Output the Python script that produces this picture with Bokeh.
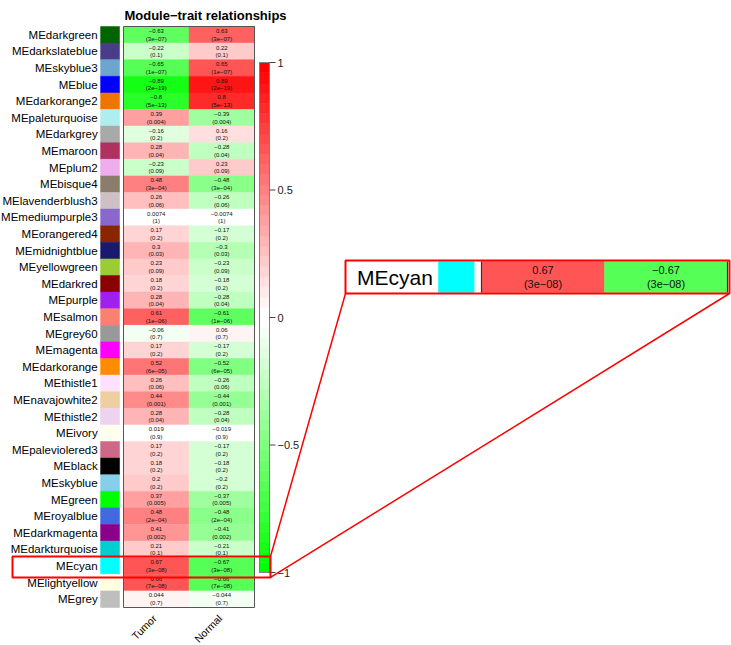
import math
from bokeh.plotting import figure
from bokeh.models import Range1d, ColumnDataSource
from bokeh.core.properties import value
from bokeh.transform import linear_cmap
from bokeh.embed import file_html
from bokeh.resources import INLINE

# ---------------- data ----------------
title_text = "Module−trait relationships"
traits = ["Tumor", "Normal"]
modules = [
    "MEdarkgreen", "MEdarkslateblue", "MEskyblue3", "MEblue", "MEdarkorange2",
    "MEpaleturquoise", "MEdarkgrey", "MEmaroon", "MEplum2", "MEbisque4",
    "MElavenderblush3", "MEmediumpurple3", "MEorangered4", "MEmidnightblue",
    "MEyellowgreen", "MEdarkred", "MEpurple", "MEsalmon", "MEgrey60", "MEmagenta",
    "MEdarkorange", "MEthistle1", "MEnavajowhite2", "MEthistle2", "MEivory",
    "MEpaleviolered3", "MEblack", "MEskyblue", "MEgreen", "MEroyalblue",
    "MEdarkmagenta", "MEdarkturquoise", "MEcyan", "MElightyellow", "MEgrey",
]
module_colors = [
    "#006400", "#483D8B", "#6CA6CD", "#0000FF", "#EE7600",
    "#AFEEEE", "#A9A9A9", "#B03060", "#EEAEEE", "#8B7D6B",
    "#CDC1C5", "#8968CD", "#8B2500", "#191970",
    "#9ACD32", "#8B0000", "#A020F0", "#FA8072", "#999999", "#FF00FF",
    "#FF8C00", "#FFE1FF", "#EECFA1", "#EED2EE", "#FFFFF0",
    "#CD6889", "#000000", "#87CEEB", "#00FF00", "#4169E1",
    "#8B008B", "#00CED1", "#00FFFF", "#FFFFE0", "#BEBEBE",
]
tumor_r = [
    -0.63, -0.22, -0.65, -0.89, -0.8,
    0.39, -0.16, 0.28, -0.23, 0.48,
    0.26, 0.0074, 0.17, 0.3,
    0.23, 0.18, 0.28, 0.61, -0.06, 0.17,
    0.52, 0.26, 0.44, 0.28, 0.019,
    0.17, 0.18, 0.2, 0.37, 0.48,
    0.41, 0.21, 0.67, 0.66, 0.044,
]
normal_r = [
    0.63, 0.22, 0.65, 0.89, 0.8,
    -0.39, 0.16, -0.28, 0.23, -0.48,
    -0.26, -0.0074, -0.17, -0.3,
    -0.23, -0.18, -0.28, -0.61, 0.06, -0.17,
    -0.52, -0.26, -0.44, -0.28, -0.019,
    -0.17, -0.18, -0.2, -0.37, -0.48,
    -0.41, -0.21, -0.67, -0.66, -0.044,
]
p_values = [
    "3e-07", "0.1", "1e-07", "2e-19", "5e-13",
    "0.004", "0.2", "0.04", "0.09", "3e-04",
    "0.06", "1", "0.2", "0.03",
    "0.09", "0.2", "0.04", "1e-06", "0.7", "0.2",
    "6e-05", "0.06", "0.001", "0.04", "0.9",
    "0.2", "0.2", "0.2", "0.005", "2e-04",
    "0.002", "0.1", "3e-08", "7e-08", "0.7",
]
colorbar_ticks = [1, 0.5, 0, -0.5, -1]
highlight_module = "MEcyan"

# ---------------- style / layout ----------------
FONT = value("Liberation Sans")
PAGE_L, PAGE_T = 0, 0
W, H = 731, 645
PAGE_R, PAGE_B = PAGE_L + W, PAGE_T + H

HM_LEFT, HM_RIGHT = 123, 254      # heatmap in page px
HM_TOP, HM_BOTTOM = 26, 607
SW_L, SW_R = -0.35, -0.06         # swatch, in column units
LABEL_X = -0.395                  # label right end, in column units


def green_white_red(n):
    half = n // 2
    cols = []
    for i in range(half):
        t = i / (half - 1)
        cols.append("#%02x%02x%02x" % (round(255 * t), 255, round(255 * t)))
    for i in range(half):
        t = 1 - i / (half - 1)
        cols.append("#%02x%02x%02x" % (255, round(255 * t), round(255 * t)))
    return cols


palette = green_white_red(50)


def x_range_from(px0, v0, px1, v1):
    k = (v1 - v0) / (px1 - px0)
    return Range1d(start=v0 + (PAGE_L - px0) * k, end=v0 + (PAGE_R - px0) * k)


def y_range_from(px0, v0, px1, v1):
    k = (v1 - v0) / (px1 - px0)
    return Range1d(start=v0 + (PAGE_B - px0) * k, end=v0 + (PAGE_T - px0) * k)


def fmt(s):
    return s.replace("-", "−")


n_rows = len(modules)
n_traits = len(traits)
row_px = (HM_BOTTOM - HM_TOP) / n_rows

p = figure(width=W, height=H,
           x_range=x_range_from(HM_LEFT, 0, HM_RIGHT, n_traits),
           y_range=y_range_from(HM_TOP, 0, HM_BOTTOM, n_rows),
           x_axis_location=None, y_axis_location=None,
           output_backend="svg", toolbar_location=None, min_border=0)
p.grid.visible = False
p.outline_line_color = None
p.background_fill_color = "white"
p.border_fill_color = "white"

p.extra_x_ranges = {
    "px": Range1d(PAGE_L, PAGE_R),
    "ix": x_range_from(481, 0, 604, 1),
}
p.extra_y_ranges = {
    "px": Range1d(PAGE_B, PAGE_T),
    "cb": y_range_from(62, 1, 572, -1),
    "iy": y_range_from(261, 0, 292, 1),
}

trait_values = [tumor_r, normal_r]


def build_sources(rows, row_offset):
    rows_d = dict(top=[], bottom=[], mid=[], name=[], color=[])
    cells = dict(left=[], right=[], top=[], bottom=[], xc=[], yc=[], r=[], label=[])
    for k, i in enumerate(rows):
        y0 = k + row_offset
        rows_d["top"].append(y0)
        rows_d["bottom"].append(y0 + 1)
        rows_d["mid"].append(y0 + 0.5)
        rows_d["name"].append(modules[i])
        rows_d["color"].append(module_colors[i])
        for j in range(n_traits):
            r = trait_values[j][i]
            cells["left"].append(j)
            cells["right"].append(j + 1)
            cells["top"].append(y0)
            cells["bottom"].append(y0 + 1)
            cells["xc"].append(j + 0.5)
            cells["yc"].append(y0 + 0.5)
            cells["r"].append(r)
            cells["label"].append(fmt(f"{r:g}") + "\n(" + fmt(p_values[i]) + ")")
    return ColumnDataSource(rows_d), ColumnDataSource(cells)


def draw_block(rows_src, cells_src, xname, yname, label_size, cell_size, line_h):
    kw = dict(x_range_name=xname, y_range_name=yname)
    p.quad(left=SW_L, right=SW_R, top="top", bottom="bottom", fill_color="color",
           line_color="color", line_width=0.5, source=rows_src, **kw)
    p.text(x=LABEL_X, y="mid", text="name", source=rows_src, text_align="right",
           text_baseline="middle", text_font=FONT, text_font_size=label_size,
           text_color="black", **kw)
    cmap = linear_cmap("r", palette, -1, 1)
    p.quad(left="left", right="right", top="top", bottom="bottom", fill_color=cmap,
           line_color=linear_cmap("r", palette, -1, 1), line_width=0.5, source=cells_src, **kw)
    p.text(x="xc", y="yc", text="label", source=cells_src, text_align="center",
           text_baseline="middle", text_font=FONT, text_font_size=cell_size,
           text_line_height=line_h, text_color="#111111", **kw)


# main heatmap
main_rows, main_cells = build_sources(range(n_rows), 0)
draw_block(main_rows, main_cells, "default", "default", "11.5px", "6px", 1.25)
p.quad(left=0, right=n_traits, top=0, bottom=n_rows, fill_color=None,
       line_color="#555555", line_width=1)

# column labels
p.text(x=[j + 0.5 - 0.026 for j in range(n_traits)], y=[616] * n_traits, text=traits,
       angle=math.pi / 4, text_align="right", text_baseline="middle",
       text_font=FONT, text_font_size="10.5px", text_color="black", y_range_name="px")

# title
p.text(x=[205], y=[14.5], text=[title_text], text_align="center", text_baseline="middle",
       text_font=FONT, text_font_size="13px", text_font_style="bold", text_color="black",
       x_range_name="px", y_range_name="px")

# colour bar
n_col = len(palette)
edges = [-1 + 2 * k / n_col for k in range(n_col + 1)]
p.quad(left=259, right=269, bottom=edges[:-1], top=edges[1:], fill_color=palette,
       line_color=palette, line_width=0.5, x_range_name="px", y_range_name="cb")
p.quad(left=259, right=269, bottom=-1, top=1, fill_color=None, line_color="#808080",
       line_width=1, x_range_name="px", y_range_name="cb")
p.segment(x0=269, x1=275, y0=colorbar_ticks, y1=colorbar_ticks, line_color="#444444",
          line_width=1, x_range_name="px", y_range_name="cb")
p.text(x=277, y=colorbar_ticks, text=[fmt(f"{t:g}") for t in colorbar_ticks],
       text_align="left", text_baseline="middle", text_font=FONT, text_font_size="11px",
       text_color="#222222", x_range_name="px", y_range_name="cb")

# highlight box on the main heatmap
hi = modules.index(highlight_module)
hl_top, hl_bot = hi - 0.07, hi + 1.19
p.quad(left=12, right=270, top=hl_top, bottom=hl_bot, fill_color=None,
       line_color="#FF0000", line_width=2, x_range_name="px")

# zoomed inset
in_rows, in_cells = build_sources([hi], 0)
draw_block(in_rows, in_cells, "ix", "iy", "21px", "11px", 1.15)
p.segment(x0=[0, n_traits], x1=[0, n_traits], y0=0, y1=1, line_color="#333333",
          line_width=1.2, x_range_name="ix", y_range_name="iy")
p.quad(left=345, right=729, top=260, bottom=293, fill_color=None,
       line_color="#FF0000", line_width=2, x_range_name="px", y_range_name="px")

# connector lines
hl_top_px = HM_TOP + hl_top * row_px
hl_bot_px = HM_TOP + hl_bot * row_px
p.segment(x0=[345, 729], y0=[293, 293], x1=[270, 270], y1=[hl_top_px, hl_bot_px],
          line_color="#FF0000", line_width=1.5, x_range_name="px", y_range_name="px")

open("out.html", "w").write(file_html(p, INLINE))
